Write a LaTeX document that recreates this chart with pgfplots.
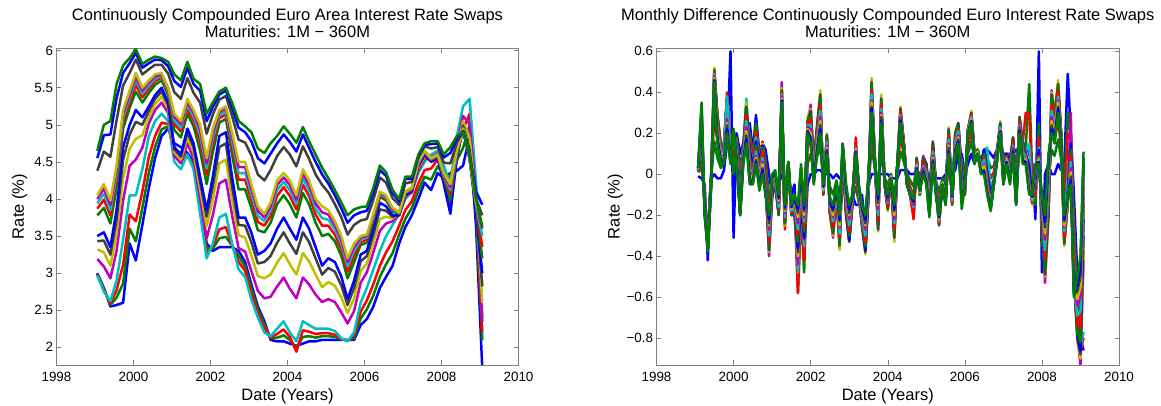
\documentclass[border=0pt]{standalone}
\usepackage{pgfplots}
\pgfplotsset{compat=1.18}
\usepackage{pgfplotstable}
\usepackage{fontspec}
\setmainfont{Liberation Sans}
\definecolor{mb}{rgb}{0,0,1}
\definecolor{mg}{rgb}{0,0.5,0}
\definecolor{mr}{rgb}{1,0,0}
\definecolor{mc}{rgb}{0,0.75,0.75}
\definecolor{mm}{rgb}{0.75,0,0.75}
\definecolor{my}{rgb}{0.75,0.75,0}
\definecolor{mk}{rgb}{0.25,0.25,0.25}

\pgfplotstableread{
t s1 s2 s3 s4 s5 s6 s7 s8 s9 s10 s11 s12 s13 s14 s15 s16
1999.06 3.00 2.99 2.98 2.97 3.19 3.32 3.43 3.50 3.78 3.87 3.94 4.00 4.05 4.38 4.55 4.65
1999.23 2.80 2.79 2.77 2.75 3.09 3.28 3.44 3.55 3.88 3.99 4.07 4.14 4.20 4.64 4.86 5.00
1999.40 2.55 2.57 2.59 2.62 2.93 3.10 3.25 3.35 3.67 3.78 3.85 3.92 3.98 4.57 4.87 5.05
1999.56 2.57 2.67 2.77 2.90 3.30 3.53 3.72 3.85 4.15 4.26 4.33 4.39 4.45 5.06 5.36 5.55
1999.73 2.60 2.86 3.11 3.45 3.98 4.28 4.53 4.70 4.95 5.04 5.10 5.15 5.20 5.53 5.70 5.80
1999.90 3.40 3.60 3.79 4.05 4.45 4.68 4.87 5.00 5.23 5.31 5.37 5.41 5.46 5.70 5.83 5.90
2000.06 3.17 3.43 3.70 4.05 4.53 4.81 5.04 5.20 5.45 5.54 5.60 5.65 5.70 5.88 5.97 6.02
2000.23 3.65 3.88 4.10 4.40 4.69 4.86 5.00 5.10 5.30 5.37 5.42 5.46 5.50 5.68 5.77 5.82
2000.40 4.15 4.36 4.57 4.85 5.02 5.11 5.19 5.25 5.43 5.49 5.53 5.57 5.60 5.75 5.83 5.88
2000.56 4.55 4.70 4.85 5.05 5.20 5.28 5.35 5.40 5.54 5.59 5.62 5.65 5.68 5.81 5.88 5.92
2000.73 4.85 4.94 5.03 5.15 5.30 5.38 5.45 5.50 5.60 5.64 5.66 5.68 5.70 5.81 5.87 5.90
2000.90 4.95 4.98 5.01 5.05 5.16 5.22 5.27 5.30 5.40 5.44 5.46 5.48 5.50 5.69 5.79 5.85
2001.06 4.75 4.68 4.60 4.50 4.58 4.63 4.67 4.70 4.93 5.01 5.06 5.11 5.15 5.44 5.59 5.68
2001.23 4.70 4.61 4.52 4.40 4.48 4.53 4.57 4.60 4.83 4.91 4.96 5.01 5.05 5.35 5.51 5.60
2001.40 4.62 4.59 4.58 4.60 4.75 4.83 4.90 4.95 5.15 5.22 5.27 5.31 5.35 5.63 5.77 5.85
2001.56 4.50 4.47 4.44 4.40 4.55 4.63 4.70 4.75 4.98 5.06 5.11 5.16 5.20 5.43 5.55 5.62
2001.73 4.05 3.98 3.90 3.80 4.01 4.13 4.23 4.30 4.65 4.78 4.86 4.93 5.00 5.30 5.46 5.55
2001.90 3.40 3.34 3.28 3.20 3.47 3.63 3.76 3.85 4.20 4.33 4.41 4.48 4.55 4.88 5.05 5.15
2002.06 3.30 3.33 3.36 3.40 3.78 3.99 4.17 4.30 4.63 4.74 4.82 4.89 4.95 5.14 5.24 5.30
2002.23 3.35 3.47 3.59 3.75 4.21 4.48 4.70 4.85 5.03 5.09 5.13 5.17 5.20 5.34 5.41 5.45
2002.40 3.35 3.49 3.62 3.80 4.26 4.53 4.75 4.90 5.08 5.14 5.18 5.22 5.25 5.39 5.46 5.50
2002.56 3.35 3.37 3.38 3.40 3.78 3.99 4.17 4.30 4.60 4.71 4.78 4.84 4.90 5.12 5.23 5.30
2002.73 3.30 3.23 3.15 3.05 3.34 3.51 3.65 3.75 4.13 4.26 4.35 4.43 4.50 4.80 4.96 5.05
2002.90 3.15 3.09 3.03 2.95 3.29 3.48 3.64 3.75 4.13 4.26 4.35 4.43 4.50 4.76 4.90 4.98
2003.06 2.85 2.79 2.73 2.65 3.03 3.24 3.42 3.55 3.88 3.99 4.07 4.14 4.20 4.59 4.78 4.90
2003.23 2.55 2.51 2.46 2.40 2.76 2.96 3.13 3.25 3.58 3.69 3.77 3.84 3.90 4.33 4.55 4.68
2003.40 2.35 2.31 2.26 2.20 2.66 2.93 3.15 3.30 3.55 3.64 3.70 3.75 3.80 4.25 4.48 4.62
2003.56 2.10 2.12 2.13 2.15 2.68 2.98 3.23 3.40 3.68 3.77 3.84 3.90 3.95 4.39 4.61 4.75
2003.73 2.08 2.13 2.18 2.25 2.82 3.14 3.41 3.60 3.93 4.04 4.12 4.19 4.25 4.58 4.75 4.85
2003.90 2.08 2.16 2.24 2.35 2.94 3.27 3.55 3.75 4.05 4.16 4.23 4.29 4.35 4.70 4.87 4.98
2004.06 2.05 2.10 2.14 2.20 2.79 3.12 3.40 3.60 3.93 4.04 4.12 4.19 4.25 4.60 4.77 4.88
2004.23 2.02 1.99 1.94 2.08 2.66 2.98 3.26 3.45 3.75 3.86 3.93 3.99 4.05 4.44 4.64 4.76
2004.40 2.05 2.14 2.23 2.35 2.94 3.27 3.55 3.75 4.08 4.19 4.27 4.34 4.40 4.71 4.87 4.97
2004.56 2.08 2.15 2.21 2.30 2.85 3.16 3.42 3.60 3.93 4.04 4.12 4.19 4.25 4.54 4.69 4.78
2004.73 2.08 2.13 2.18 2.25 2.71 2.98 3.20 3.35 3.68 3.79 3.87 3.94 4.00 4.33 4.50 4.60
2004.90 2.10 2.15 2.19 2.25 2.61 2.81 2.98 3.10 3.50 3.64 3.74 3.82 3.90 4.19 4.33 4.42
2005.06 2.10 2.15 2.19 2.25 2.65 2.88 3.07 3.20 3.53 3.64 3.72 3.79 3.85 4.09 4.21 4.28
2005.23 2.10 2.14 2.17 2.22 2.61 2.83 3.02 3.15 3.43 3.52 3.59 3.65 3.70 3.93 4.05 4.12
2005.40 2.10 2.11 2.11 2.12 2.47 2.67 2.83 2.95 3.23 3.32 3.39 3.45 3.50 3.75 3.87 3.95
2005.56 2.10 2.09 2.09 2.08 2.32 2.46 2.57 2.65 2.93 3.02 3.09 3.15 3.20 3.52 3.68 3.78
2005.73 2.10 2.13 2.16 2.20 2.49 2.66 2.80 2.90 3.15 3.24 3.30 3.35 3.40 3.65 3.78 3.86
2005.90 2.30 2.39 2.48 2.60 2.87 3.03 3.16 3.25 3.38 3.42 3.45 3.48 3.50 3.71 3.82 3.89
2006.06 2.38 2.51 2.63 2.80 3.01 3.13 3.23 3.30 3.41 3.45 3.48 3.50 3.52 3.73 3.84 3.90
2006.23 2.55 2.70 2.85 3.05 3.28 3.41 3.52 3.60 3.70 3.74 3.76 3.78 3.80 3.99 4.09 4.15
2006.40 2.80 2.95 3.10 3.30 3.57 3.73 3.86 3.95 4.03 4.05 4.07 4.09 4.10 4.29 4.39 4.45
2006.56 2.95 3.12 3.28 3.50 3.67 3.76 3.84 3.90 3.98 4.00 4.02 4.04 4.05 4.22 4.31 4.36
2006.73 3.10 3.27 3.43 3.65 3.70 3.74 3.76 3.78 3.83 3.85 3.86 3.87 3.88 4.01 4.08 4.12
2006.90 3.40 3.52 3.64 3.80 3.79 3.79 3.78 3.78 3.80 3.81 3.81 3.82 3.82 3.92 3.97 4.00
2007.06 3.62 3.73 3.85 4.00 4.02 4.03 4.04 4.05 4.08 4.08 4.09 4.10 4.10 4.21 4.27 4.30
2007.23 3.78 3.88 3.97 4.10 4.09 4.11 4.12 4.10 4.13 4.13 4.14 4.15 4.15 4.23 4.27 4.30
2007.40 4.00 4.11 4.21 4.35 4.39 4.42 4.44 4.45 4.48 4.48 4.49 4.50 4.50 4.56 4.58 4.60
2007.56 4.22 4.30 4.39 4.50 4.54 4.57 4.59 4.60 4.63 4.63 4.64 4.65 4.65 4.71 4.73 4.75
2007.73 4.12 4.26 4.41 4.60 4.56 4.53 4.51 4.50 4.53 4.53 4.54 4.55 4.55 4.68 4.74 4.78
2007.90 4.35 4.44 4.53 4.65 4.61 4.58 4.56 4.55 4.58 4.58 4.59 4.60 4.60 4.70 4.75 4.78
2008.06 4.28 4.33 4.38 4.45 4.35 4.29 4.24 4.20 4.28 4.30 4.32 4.34 4.35 4.49 4.56 4.60
2008.23 4.35 4.31 4.26 4.20 4.03 3.94 3.86 3.80 4.00 4.07 4.12 4.16 4.20 4.48 4.62 4.70
2008.40 4.38 4.52 4.66 4.85 4.72 4.65 4.59 4.55 4.60 4.62 4.63 4.64 4.65 4.76 4.82 4.85
2008.56 4.45 4.69 4.93 5.25 5.12 5.05 4.99 4.95 4.96 4.95 4.94 4.95 4.95 4.92 4.91 4.90
2008.73 4.85 5.00 5.15 5.35 5.01 4.82 4.66 4.55 4.56 4.55 4.55 4.54 4.55 4.58 4.59 4.60
2008.90 3.60 3.78 3.96 4.20 4.03 3.94 3.86 3.80 3.88 3.90 3.92 3.94 3.95 4.00 4.10 4.00
2009.06 1.70 2.10 2.20 2.40 2.35 2.60 2.82 3.00 3.20 3.35 3.50 3.60 3.65 3.78 3.92 3.62
}\lev

\pgfplotstableread{
t s1 s2 s3 s4 s5 s6 s7 s8 s9 s10 s11 s12 s13 s14 s15 s16
1999.08 -0.01 0.01 0.01 0.02 0.02 0.02 0.02 0.02 0.02 0.02 0.02 0.03 0.03 0.03 0.03 0.03
1999.17 -0.02 0.03 0.07 0.12 0.14 0.15 0.14 0.13 0.18 0.21 0.24 0.27 0.29 0.31 0.33 0.35
1999.25 -0.05 -0.08 -0.11 -0.13 -0.15 -0.15 -0.15 -0.14 -0.16 -0.17 -0.17 -0.18 -0.19 -0.19 -0.20 -0.20
1999.33 -0.42 -0.38 -0.35 -0.32 -0.31 -0.30 -0.30 -0.31 -0.31 -0.32 -0.33 -0.34 -0.35 -0.36 -0.36 -0.37
1999.42 -0.02 -0.01 -0.01 0.00 0.00 0.00 0.00 0.00 -0.01 -0.02 -0.02 -0.03 -0.04 -0.04 -0.05 -0.05
1999.50 0.00 0.16 0.29 0.42 0.49 0.52 0.50 0.47 0.51 0.50 0.49 0.48 0.47 0.46 0.46 0.45
1999.58 -0.02 0.08 0.16 0.24 0.28 0.30 0.29 0.27 0.28 0.26 0.23 0.21 0.20 0.18 0.17 0.15
1999.67 -0.02 0.03 0.07 0.12 0.14 0.15 0.14 0.13 0.14 0.12 0.11 0.09 0.08 0.07 0.06 0.05
1999.75 0.02 0.06 0.09 0.12 0.14 0.15 0.15 0.14 0.14 0.12 0.11 0.09 0.08 0.07 0.06 0.05
1999.83 0.15 0.22 0.28 0.33 0.37 0.38 0.37 0.36 0.35 0.40 0.38 0.27 0.25 0.24 0.22 0.20
1999.92 0.60 0.20 0.15 0.13 0.11 0.12 0.10 0.12 0.11 0.10 0.09 0.08 0.07 0.06 0.06 0.05
2000.00 -0.31 0.00 0.10 0.15 0.18 0.20 0.19 0.17 0.20 0.21 0.21 0.21 0.21 0.22 0.22 0.22
2000.08 0.20 0.18 0.17 0.16 0.15 0.15 0.15 0.15 0.14 0.12 0.11 0.09 0.08 0.07 0.06 0.05
2000.17 0.10 0.02 -0.05 -0.12 -0.17 -0.18 -0.17 -0.15 -0.18 -0.19 -0.19 -0.19 -0.19 -0.20 -0.20 -0.20
2000.25 0.15 0.14 0.13 0.13 0.12 0.12 0.12 0.12 0.11 0.10 0.09 0.08 0.07 0.06 0.06 0.05
2000.33 0.20 0.25 0.28 0.37 0.34 0.35 0.33 0.32 0.32 0.29 0.26 0.23 0.21 0.19 0.17 0.15
2000.42 0.25 0.20 0.17 0.13 0.11 0.10 0.10 0.12 0.08 0.06 0.03 0.01 0.00 -0.02 -0.04 -0.05
2000.50 0.10 0.08 0.06 0.04 0.03 0.02 0.02 0.03 0.01 0.00 -0.01 -0.02 -0.03 -0.04 -0.04 -0.05
2000.58 0.29 0.25 0.21 0.18 0.16 0.15 0.15 0.16 0.14 0.12 0.11 0.09 0.08 0.07 0.06 0.05
2000.67 0.10 0.09 0.07 0.06 0.05 0.05 0.05 0.06 0.03 0.01 -0.01 -0.03 -0.04 -0.05 -0.07 -0.08
2000.75 0.15 0.15 0.16 0.15 0.15 0.15 0.14 0.14 0.13 0.11 0.08 0.06 0.05 0.03 0.02 0.00
2000.83 0.12 0.07 0.03 -0.02 -0.04 -0.05 -0.04 -0.03 -0.06 -0.07 -0.07 -0.08 -0.09 -0.09 -0.10 -0.10
2000.92 0.00 -0.11 -0.21 -0.30 -0.40 -0.38 -0.37 -0.34 -0.35 -0.33 -0.30 -0.27 -0.25 -0.24 -0.22 -0.20
2001.00 -0.10 -0.09 -0.11 -0.10 -0.10 -0.10 -0.11 -0.10 -0.09 -0.07 -0.06 -0.04 -0.03 -0.02 -0.01 0.00
2001.08 -0.05 -0.06 -0.05 -0.05 -0.05 -0.05 -0.04 -0.05 -0.04 -0.03 -0.02 -0.01 0.00 0.01 0.01 0.02
2001.17 -0.05 -0.10 -0.13 -0.17 -0.19 -0.20 -0.20 -0.19 -0.19 -0.17 -0.16 -0.14 -0.13 -0.12 -0.11 -0.10
2001.25 0.00 0.13 0.23 0.34 0.45 0.42 0.41 0.38 0.41 0.40 0.39 0.38 0.37 0.36 0.36 0.35
2001.33 -0.05 -0.11 -0.27 -0.21 -0.24 -0.25 -0.24 -0.23 -0.24 -0.22 -0.21 -0.19 -0.18 -0.17 -0.16 -0.15
2001.42 0.00 0.02 0.03 0.04 0.05 0.05 0.05 0.05 0.05 0.05 0.05 0.06 0.06 0.06 0.06 0.06
2001.50 -0.10 -0.13 -0.16 -0.18 -0.20 -0.20 -0.20 -0.19 -0.19 -0.19 -0.18 -0.17 -0.17 -0.16 -0.16 -0.15
2001.58 -0.05 -0.10 -0.13 -0.17 -0.19 -0.20 -0.20 -0.19 -0.19 -0.17 -0.16 -0.14 -0.13 -0.12 -0.11 -0.10
2001.67 -0.50 -0.58 -0.58 -0.48 -0.44 -0.40 -0.38 -0.36 -0.33 -0.30 -0.27 -0.24 -0.21 -0.19 -0.17 -0.15
2001.75 -0.20 -0.18 -0.17 -0.16 -0.15 -0.15 -0.15 -0.16 -0.12 -0.09 -0.06 -0.03 -0.01 0.01 0.03 0.05
2001.83 -0.40 -0.48 -0.42 -0.35 -0.32 -0.30 -0.30 -0.31 -0.28 -0.26 -0.23 -0.21 -0.20 -0.18 -0.17 -0.15
2001.92 -0.05 0.05 0.13 0.21 0.25 0.28 0.26 0.24 0.26 0.25 0.24 0.23 0.22 0.21 0.21 0.20
2002.00 0.00 0.10 0.18 0.26 0.34 0.32 0.31 0.29 0.29 0.27 0.24 0.22 0.20 0.18 0.17 0.15
2002.08 0.00 0.02 0.03 0.04 0.05 0.05 0.05 0.05 0.04 0.02 0.01 -0.01 -0.02 -0.03 -0.04 -0.05
2002.17 0.02 0.09 0.15 0.20 0.24 0.25 0.24 0.23 0.23 0.21 0.18 0.16 0.15 0.13 0.12 0.10
2002.25 0.02 0.13 0.23 0.32 0.38 0.41 0.39 0.36 0.37 0.34 0.31 0.28 0.26 0.24 0.22 0.20
2002.33 0.00 -0.03 -0.06 -0.08 -0.10 -0.10 -0.10 -0.09 -0.09 -0.09 -0.08 -0.07 -0.07 -0.06 -0.06 -0.05
2002.42 0.00 0.06 0.11 0.16 0.19 0.20 0.19 0.18 0.19 0.17 0.16 0.14 0.13 0.12 0.11 0.10
2002.50 0.00 -0.06 -0.11 -0.16 -0.19 -0.20 -0.19 -0.18 -0.19 -0.18 -0.16 -0.15 -0.14 -0.14 -0.13 -0.12
2002.58 -0.02 -0.10 -0.17 -0.24 -0.31 -0.30 -0.29 -0.27 -0.28 -0.26 -0.23 -0.21 -0.20 -0.18 -0.17 -0.15
2002.67 0.00 -0.03 -0.12 -0.08 -0.10 -0.10 -0.10 -0.09 -0.09 -0.12 -0.08 -0.07 -0.07 -0.06 -0.06 -0.05
2002.75 -0.02 -0.12 -0.21 -0.29 -0.34 -0.37 -0.35 -0.33 -0.34 -0.31 -0.29 -0.26 -0.25 -0.23 -0.22 -0.20
2002.83 0.00 0.03 0.06 0.08 0.10 0.10 0.10 0.09 0.11 0.12 0.12 0.13 0.14 0.14 0.15 0.15
2002.92 -0.10 -0.13 -0.16 -0.18 -0.20 -0.20 -0.20 -0.19 -0.18 -0.16 -0.13 -0.11 -0.10 -0.08 -0.07 -0.05
2003.00 -0.20 -0.24 -0.27 -0.30 -0.32 -0.33 -0.33 -0.32 -0.30 -0.28 -0.25 -0.22 -0.20 -0.19 -0.17 -0.15
2003.08 -0.10 -0.12 -0.13 -0.14 -0.15 -0.15 -0.15 -0.15 -0.14 -0.14 -0.13 -0.12 -0.12 -0.11 -0.11 -0.10
2003.17 -0.15 -0.06 0.02 0.09 0.14 0.15 0.14 0.12 0.14 0.18 0.13 0.12 0.12 0.11 0.11 0.10
2003.25 -0.15 -0.14 -0.12 -0.11 -0.10 -0.10 -0.10 -0.10 -0.09 -0.09 -0.08 -0.07 -0.07 -0.06 -0.06 -0.05
2003.33 -0.10 -0.15 -0.18 -0.22 -0.24 -0.25 -0.25 -0.24 -0.24 -0.22 -0.21 -0.19 -0.18 -0.17 -0.16 -0.15
2003.42 -0.25 -0.29 -0.32 -0.35 -0.37 -0.39 -0.38 -0.37 -0.35 -0.33 -0.30 -0.27 -0.25 -0.24 -0.22 -0.20
2003.50 -0.05 -0.07 -0.08 -0.09 -0.10 -0.10 -0.10 -0.10 -0.09 -0.07 -0.06 -0.04 -0.03 -0.02 -0.01 0.00
2003.58 0.00 0.14 0.25 0.37 0.44 0.47 0.45 0.41 0.44 0.41 0.39 0.36 0.35 0.33 0.32 0.30
2003.67 0.00 0.02 0.03 0.04 0.05 0.05 0.05 0.05 0.05 0.05 0.06 0.05 0.05 0.05 0.05 0.05
2003.75 0.00 -0.08 -0.15 -0.22 -0.27 -0.28 -0.27 -0.25 -0.25 -0.23 -0.20 -0.17 -0.15 -0.14 -0.12 -0.10
2003.83 0.00 0.11 0.21 0.30 0.36 0.39 0.37 0.34 0.36 0.34 0.32 0.30 0.29 0.28 0.26 0.25
2003.92 0.00 -0.02 -0.03 -0.04 -0.05 -0.05 -0.05 -0.05 -0.05 -0.05 -0.05 -0.05 -0.05 -0.05 -0.05 -0.05
2004.00 0.00 -0.05 -0.10 -0.14 -0.17 -0.18 -0.17 -0.16 -0.17 -0.16 -0.14 -0.13 -0.12 -0.12 -0.11 -0.10
2004.08 -0.02 -0.01 0.00 0.00 0.00 0.00 0.00 0.00 0.00 -0.01 -0.01 -0.01 -0.01 -0.02 -0.02 -0.02
2004.17 -0.02 -0.11 -0.19 -0.26 -0.31 -0.33 -0.31 -0.29 -0.29 -0.27 -0.24 -0.22 -0.20 -0.18 -0.17 -0.15
2004.25 -0.02 0.00 0.02 0.04 0.05 0.05 0.05 0.05 0.05 0.05 0.05 0.05 0.05 0.05 0.05 0.05
2004.33 0.02 0.11 0.19 0.27 0.31 0.33 0.32 0.30 0.32 0.31 0.29 0.28 0.27 0.27 0.26 0.25
2004.42 0.02 0.06 0.09 0.12 0.14 0.15 0.15 0.14 0.14 0.14 0.13 0.12 0.12 0.11 0.11 0.10
2004.50 0.02 0.00 -0.02 -0.04 -0.05 -0.05 -0.05 -0.04 -0.05 -0.05 -0.05 -0.05 -0.05 -0.05 -0.05 -0.05
2004.58 0.00 -0.03 -0.06 -0.08 -0.10 -0.10 -0.10 -0.09 -0.10 -0.10 -0.10 -0.10 -0.10 -0.10 -0.10 -0.10
2004.67 0.00 -0.06 -0.11 -0.16 -0.19 -0.20 -0.19 -0.18 -0.19 -0.22 -0.16 -0.15 -0.14 -0.14 -0.13 -0.12
2004.75 0.02 0.04 0.05 0.07 0.08 0.08 0.08 0.07 0.07 0.06 0.05 0.04 0.04 0.03 0.03 0.02
2004.83 0.00 -0.03 -0.06 -0.08 -0.10 -0.10 -0.10 -0.09 -0.10 -0.09 -0.09 -0.09 -0.09 -0.08 -0.08 -0.08
2004.92 0.00 0.02 0.04 0.06 0.09 0.08 0.08 0.07 0.07 0.06 0.04 0.03 0.02 0.02 0.01 0.00
2005.00 0.00 0.02 0.03 0.04 0.05 0.05 0.05 0.05 0.04 0.02 0.01 -0.01 -0.02 -0.03 -0.04 -0.05
2005.08 0.00 -0.04 -0.07 -0.10 -0.11 -0.12 -0.12 -0.11 -0.13 -0.15 -0.16 -0.17 -0.18 -0.19 -0.20 -0.21
2005.17 0.00 0.05 0.09 0.13 0.15 0.16 0.16 0.14 0.14 0.13 0.11 0.09 0.08 0.07 0.06 0.05
2005.25 -0.02 -0.03 -0.04 -0.04 -0.05 -0.05 -0.05 -0.05 -0.06 -0.07 -0.07 -0.08 -0.09 -0.09 -0.10 -0.10
2005.33 -0.02 -0.09 -0.15 -0.20 -0.24 -0.25 -0.25 -0.23 -0.24 -0.24 -0.23 -0.22 -0.22 -0.21 -0.21 -0.20
2005.42 -0.02 -0.02 -0.03 -0.03 -0.03 -0.03 -0.03 -0.03 -0.03 -0.04 -0.04 -0.04 -0.04 -0.05 -0.05 -0.05
2005.50 0.00 -0.03 -0.06 -0.08 -0.10 -0.10 -0.10 -0.09 -0.11 -0.12 -0.12 -0.13 -0.14 -0.14 -0.15 -0.15
2005.58 0.00 0.07 0.13 0.18 0.22 0.23 0.22 0.21 0.21 0.19 0.17 0.15 0.14 0.13 0.11 0.10
2005.67 0.00 -0.05 -0.08 -0.12 -0.14 -0.15 -0.15 -0.14 -0.14 -0.14 -0.13 -0.12 -0.12 -0.11 -0.11 -0.10
2005.75 0.02 0.07 0.12 0.16 0.19 0.20 0.20 0.18 0.19 0.17 0.16 0.14 0.13 0.12 0.11 0.10
2005.83 0.10 0.15 0.18 0.22 0.24 0.25 0.25 0.24 0.24 0.22 0.21 0.19 0.18 0.17 0.16 0.15
2005.92 0.10 0.07 0.05 0.02 0.00 0.00 0.00 0.01 -0.02 -0.05 -0.07 -0.09 -0.11 -0.12 -0.14 -0.17
2006.00 0.00 -0.03 -0.06 -0.08 -0.10 -0.10 -0.10 -0.09 -0.09 -0.09 -0.08 -0.07 -0.07 -0.06 -0.06 -0.05
2006.08 0.05 0.10 0.14 0.19 0.21 0.22 0.22 0.20 0.22 0.21 0.21 0.21 0.21 0.20 0.20 0.20
2006.17 0.10 0.16 0.21 0.26 0.29 0.31 0.30 0.28 0.29 0.29 0.28 0.27 0.27 0.26 0.26 0.25
2006.25 0.05 0.07 0.08 0.09 0.10 0.10 0.10 0.10 0.09 0.09 0.08 0.07 0.07 0.06 0.06 0.05
2006.33 0.10 0.11 0.11 0.12 0.12 0.12 0.12 0.12 0.12 0.11 0.11 0.11 0.11 0.10 0.10 0.10
2006.42 0.05 0.05 0.05 0.05 0.05 0.05 0.05 0.05 0.04 0.04 0.03 0.02 0.02 0.01 0.01 0.00
2006.50 0.10 0.11 0.11 0.12 0.12 0.12 0.12 0.12 0.10 0.08 0.07 0.05 0.04 0.02 0.01 0.00
2006.58 0.12 0.08 0.05 0.13 0.01 0.00 0.00 0.01 -0.02 -0.03 -0.05 -0.06 -0.07 -0.08 -0.09 -0.10
2006.67 0.10 0.03 -0.02 -0.08 -0.11 -0.12 -0.11 -0.10 -0.13 -0.14 -0.15 -0.16 -0.16 -0.17 -0.17 -0.18
2006.75 0.08 0.04 0.01 -0.02 -0.04 -0.05 -0.05 -0.04 -0.05 -0.05 -0.05 -0.05 -0.05 -0.05 -0.05 -0.05
2006.83 0.12 0.11 0.11 0.10 0.10 0.10 0.10 0.10 0.09 0.09 0.08 0.07 0.07 0.06 0.06 0.05
2006.92 0.15 0.18 0.21 0.23 0.25 0.26 0.25 0.24 0.24 0.23 0.23 0.22 0.22 0.21 0.21 0.20
2007.00 0.10 0.07 0.05 0.02 0.01 0.00 0.00 0.01 -0.01 -0.02 -0.02 -0.03 -0.04 -0.04 -0.05 -0.05
2007.08 0.10 0.10 0.10 0.10 0.10 0.10 0.10 0.10 0.09 0.09 0.08 0.07 0.07 0.06 0.06 0.05
2007.17 0.10 0.09 0.08 0.06 0.05 0.05 0.05 0.06 0.04 0.02 0.01 -0.01 -0.02 -0.03 -0.04 -0.05
2007.25 0.10 0.12 0.14 0.16 0.18 0.18 0.18 0.17 0.17 0.16 0.14 0.13 0.12 0.12 0.11 0.10
2007.33 0.12 0.05 0.00 -0.06 -0.09 -0.10 -0.10 -0.08 -0.11 -0.12 -0.12 -0.13 -0.14 -0.14 -0.15 -0.15
2007.42 0.10 0.15 0.20 0.24 0.27 0.28 0.28 0.26 0.27 0.26 0.24 0.23 0.22 0.22 0.21 0.20
2007.50 0.15 0.15 0.15 0.15 0.15 0.15 0.15 0.15 0.14 0.12 0.11 0.09 0.08 0.07 0.06 0.05
2007.58 0.15 0.13 0.30 0.11 0.10 0.10 0.10 0.10 0.09 0.09 0.08 0.07 0.07 0.06 0.06 0.05
2007.67 0.10 0.44 0.30 0.15 0.05 0.00 0.02 0.03 -0.02 -0.03 -0.05 -0.06 -0.07 -0.08 -0.09 -0.10
2007.75 0.05 -0.01 -0.06 -0.11 -0.14 -0.15 -0.14 -0.13 -0.14 -0.14 -0.13 -0.12 -0.12 -0.11 -0.11 -0.10
2007.83 -0.22 -0.15 -0.10 -0.04 -0.01 0.00 -0.01 -0.02 0.01 0.02 0.02 0.03 0.04 0.04 0.05 0.05
2007.92 0.60 0.25 0.18 0.13 0.11 0.10 0.10 0.12 0.09 0.09 0.08 0.07 0.07 0.06 0.06 0.05
2008.00 -0.48 -0.35 -0.30 -0.25 -0.21 -0.20 -0.21 -0.22 -0.19 -0.17 -0.16 -0.14 -0.13 -0.12 -0.11 -0.10
2008.08 0.00 -0.15 -0.28 -0.40 -0.53 -0.50 -0.49 -0.45 -0.46 -0.41 -0.37 -0.32 -0.29 -0.26 -0.23 -0.20
2008.17 0.05 -0.03 -0.09 -0.15 -0.19 -0.20 -0.19 -0.18 -0.16 -0.11 -0.07 -0.02 0.01 0.04 0.07 0.10
2008.25 0.00 0.12 0.22 0.32 0.41 0.40 0.39 0.36 0.37 0.34 0.31 0.28 0.26 0.24 0.22 0.20
2008.33 0.00 0.09 0.17 0.24 0.29 0.30 0.29 0.27 0.28 0.26 0.23 0.21 0.20 0.18 0.17 0.15
2008.42 0.05 0.17 0.27 0.37 0.43 0.46 0.44 0.41 0.43 0.41 0.38 0.36 0.35 0.33 0.32 0.30
2008.50 0.02 0.07 0.12 0.16 0.19 0.20 0.19 0.18 0.19 0.19 0.18 0.17 0.17 0.16 0.16 0.15
2008.58 0.05 -0.07 -0.17 -0.27 -0.33 -0.35 -0.34 -0.31 -0.33 -0.31 -0.28 -0.26 -0.25 -0.23 -0.22 -0.20
2008.67 0.49 0.30 0.20 0.00 -0.12 -0.15 -0.13 -0.09 -0.14 -0.14 -0.13 -0.12 -0.12 -0.11 -0.11 -0.10
2008.75 0.20 0.18 0.17 0.16 0.30 0.15 0.15 0.15 0.12 0.09 0.06 0.03 0.01 -0.01 -0.03 -0.05
2008.83 -0.10 -0.22 -0.32 -0.42 -0.48 -0.50 -0.49 -0.47 -0.52 -0.53 -0.55 -0.56 -0.57 -0.58 -0.59 -0.60
2008.92 -0.50 -0.60 -0.68 -0.75 -0.79 -0.82 -0.80 -0.78 -0.77 -0.73 -0.69 -0.64 -0.61 -0.57 -0.54 -0.50
2009.00 -0.80 -0.84 -0.86 -0.85 -0.93 -0.90 -0.88 -0.86 -0.82 -0.75 -0.67 -0.60 -0.55 -0.50 -0.45 -0.40
2009.08 -0.86 -0.80 -0.80 -0.77 -0.42 -0.37 -0.30 -0.22 -0.15 -0.10 -0.06 -0.02 0.02 0.05 0.08 0.11
}\dif

\pgfplotsset{matlab/.style={
  scale only axis, width=462pt, height=316.4pt,
  xmin=1998, xmax=2010,
  xtick={1998,2000,2002,2004,2006,2008,2010},
  xticklabels={1998,2000,2002,2004,2006,2008,2010},
  tick label style={font=\fontsize{13.4}{15}\selectfont, black},
  x tick label style={anchor=base, yshift=-17pt},
  title style={font=\fontsize{16.5}{17.3}\selectfont, align=center, at={(0.5,1)}, anchor=south, inner sep=0pt, yshift=4pt},
  label style={font=\fontsize{16.5}{18}\selectfont},
  xlabel={Date (Years)},
  ylabel={Rate (\%)},
  xlabel style={at={(axis description cs:0.5,0)}, anchor=base, yshift=-36pt},
  axis line style={black!50},
  every tick/.style={black!50, line width=0.5pt},
  major tick length=4.5pt,
  tick align=inside,
  no markers,
  cycle list={{mb},{mg},{mr},{mc},{mm},{my},{mk}},
  every axis plot/.append style={line width=2.5pt, line join=round},
}}

\begin{document}
\begin{tikzpicture}
\useasboundingbox (0,0) rectangle (1161pt,405pt);
\begin{axis}[matlab,
  at={(56.5pt,40.3pt)}, anchor=south west,
  ymin=1.765, ymax=6.032,
  ytick={2,2.5,3,3.5,4,4.5,5,5.5,6},
  yticklabels={2,2.5,3,3.5,4,4.5,5,5.5,6},
  ylabel style={at={(axis description cs:-0.080,0.5)}, anchor=center},
  title={Continuously Compounded Euro Area Interest Rate Swaps\\Maturities: 1M − 360M}]
\pgfplotsinvokeforeach{1,...,16}{\addplot table[x=t,y=s#1]{\lev};}
\end{axis}
\begin{axis}[matlab,
  at={(656.5pt,40.3pt)}, anchor=south west, width=462.5pt,
  ymin=-0.93, ymax=0.615,
  ytick={-0.8,-0.6,-0.4,-0.2,0,0.2,0.4,0.6},
  yticklabels={−0.8,−0.6,−0.4,−0.2,0,0.2,0.4,0.6},
  ylabel style={at={(axis description cs:-0.089,0.5)}, anchor=center},
  title={Monthly Difference Continuously Compounded Euro Interest Rate Swaps\\Maturities: 1M − 360M}]
\pgfplotsinvokeforeach{1,...,16}{\addplot table[x=t,y=s#1]{\dif};}
\end{axis}
\end{tikzpicture}
\end{document}
